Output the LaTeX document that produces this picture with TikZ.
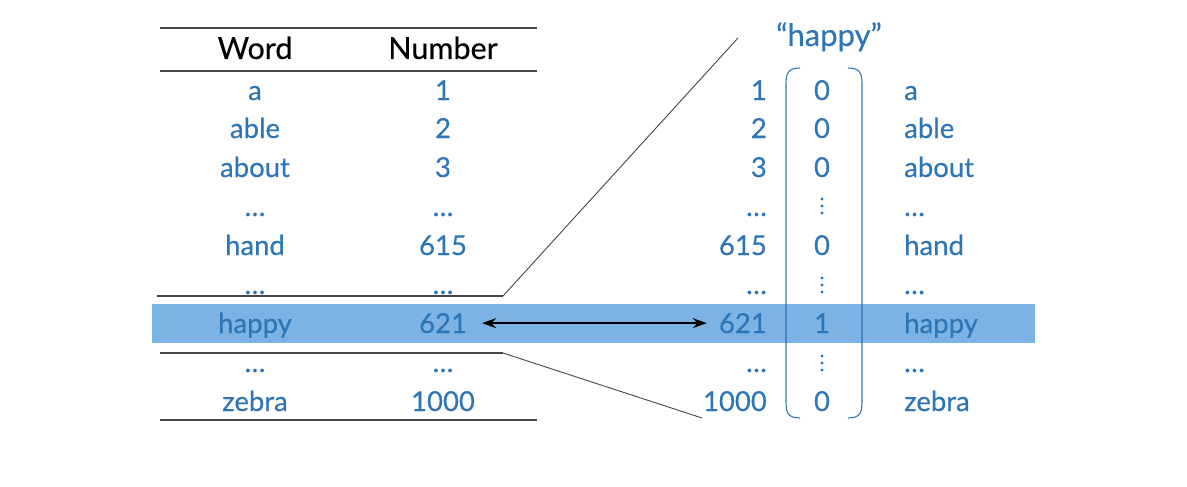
\documentclass[tikz,border=0pt]{standalone}
\usepackage{fontspec}
\setmainfont{Lato}
\newfontfamily\latob{Lato}[FakeBold=0.35]
\usetikzlibrary{arrows.meta}
\definecolor{txtblue}{RGB}{46,117,182}
\definecolor{bandblue}{RGB}{125,178,228}
\definecolor{rulegray}{RGB}{70,70,70}
\begin{document}
\begin{tikzpicture}[x=1pt,y=-1pt,
  lbl/.style={font=\latob\fontsize{27.5}{30}\selectfont, text=txtblue, inner sep=0pt, anchor=base},
  hdr/.style={lbl, font=\latob\fontsize{30.5}{33}\selectfont, text=black},
  ttl/.style={lbl, font=\latob\fontsize{31}{34}\selectfont},
  rnum/.style={lbl, anchor=base east},
  rword/.style={lbl, anchor=base west},
  rulel/.style={draw=rulegray, line width=1.8pt},
  diag/.style={draw=rulegray, line width=0.9pt},
  brk/.style={draw=txtblue, line width=1.1pt},
  vdot/.style={fill=txtblue}]
\useasboundingbox (0,0) rectangle (1187,487);
% highlight band
\fill[bandblue] (152,304) rectangle (1035,343);
% table rules
\draw[rulel] (160,28) -- (537,28);
\draw[rulel] (160,71) -- (537,71);
\draw[rulel] (160,420) -- (537,420);
% headers
\node[hdr] (hw) at (255,59) {Word};
\node[hdr] (hn) at (443,59) {Number};
% left table rows
\foreach \w/\n/\y [count=\i] in {a/1/100, able/2/138, about/3/177, …/…/216, hand/615/255, …/…/294, happy/621/333, …/…/372, zebra/1000/411}{
  \node[lbl] (lw\i) at (255,\y) {\w};
  \node[lbl] (ln\i) at (443,\y) {\n};
}
% right side
\node[ttl] (title) at (829,46) {“happy”};
\foreach \n/\w/\y [count=\i] in {1/a/100, 2/able/138, 3/about/177, …/…/216, 615/hand/255, …/…/294, 621/happy/333, …/…/372, 1000/zebra/411}{
  \node[rnum] (rn\i) at (767,\y) {\n};
  \node[rword] (rw\i) at (904,\y) {\w};
}
\node[lbl] (v1) at (822,100) {0};
\node[lbl] (v2) at (822,138) {0};
\node[lbl] (v3) at (822,177) {0};
\node[lbl] (v5) at (822,255) {0};
\node[lbl] (v7) at (822,333) {1};
\node[lbl] (v9) at (822,411) {0};
\foreach \c in {206,285,363}{
  \foreach \d in {-7,0,7}{
    \fill[vdot] (822,\c+\d) circle (1.6);
  }
}
% brackets
\draw[brk] (800,68) .. controls (787,68) and (786,74) .. (786,86) -- (786,400) .. controls (786,412) and (787,418) .. (800,418);
\draw[brk] (848,68) .. controls (861,68) and (862,74) .. (862,86) -- (862,400) .. controls (862,412) and (861,418) .. (848,418);
% zoom lines
\coordinate (ua) at (157,296);
\coordinate (ub) at (503,296);
\coordinate (uc) at (738,38);
\coordinate (la) at (160,353);
\coordinate (lb) at (503,353);
\coordinate (lc) at (702,418);
\draw[rulel, line width=1.3pt] (ua) -- (ub);
\draw[diag] (ub) -- (uc);
\draw[rulel, line width=1.3pt] (la) -- (lb);
\draw[diag] (lb) -- (lc);
% arrow
\draw[{Stealth[length=14pt,width=10pt]}-{Stealth[length=14pt,width=10pt]}, line width=2pt, shorten <=15pt, shorten >=12pt] (ln7.east) -- (rn7.west);
\end{tikzpicture}
\end{document}
